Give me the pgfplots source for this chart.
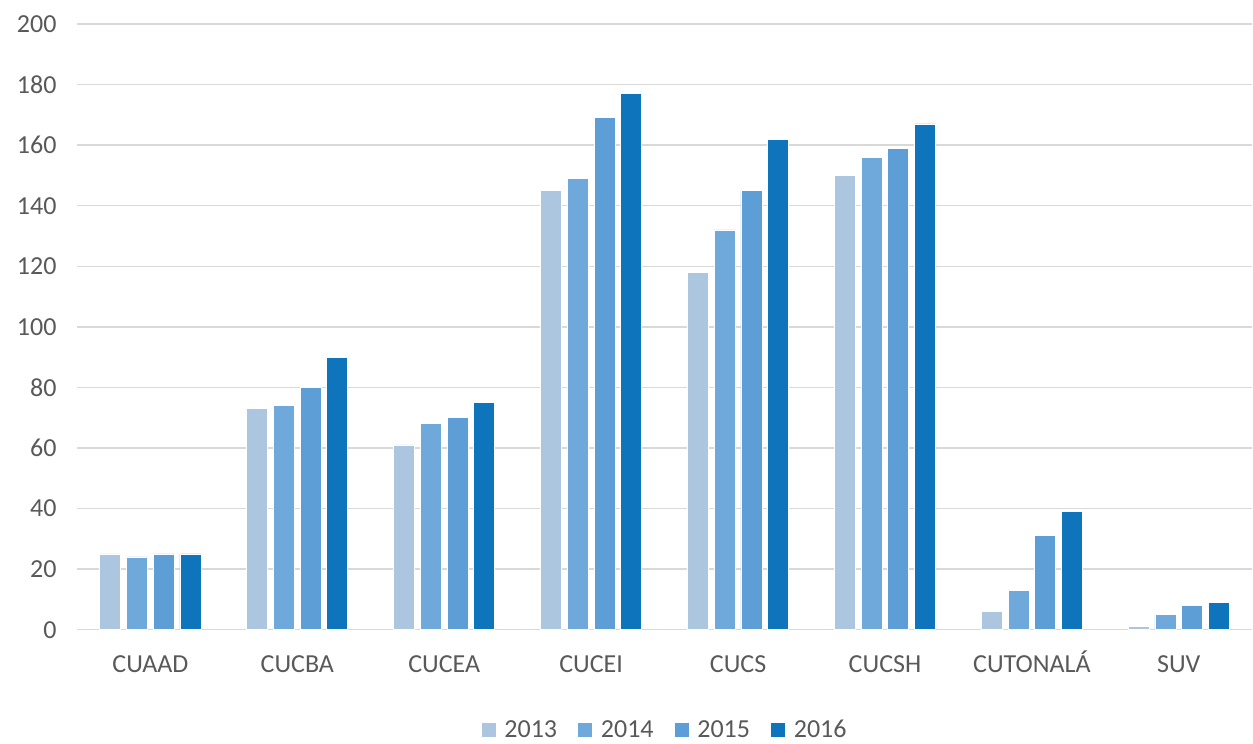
\documentclass[border=0pt]{standalone}
\usepackage{pgfplots}
\pgfplotsset{compat=1.18}
\usepackage{fontspec}
\setmainfont{Carlito}
\definecolor{c2013}{HTML}{ADC6E0}
\definecolor{c2014}{HTML}{6FA9DC}
\definecolor{c2015}{HTML}{5E9ED6}
\definecolor{c2016}{HTML}{0E74BC}
\definecolor{txt}{HTML}{595959}
\definecolor{gridc}{HTML}{D9D9D9}
\begin{document}
\begin{tikzpicture}[x=1pt,y=1pt]
\begin{axis}[
  at={(0,0)}, anchor=south west,
  scale only axis, width=1176pt, height=606pt,
  ybar=5.7pt, bar width=21pt,
  xmin=-0.5, xmax=7.5, ymin=0, ymax=200,
  xtick={0,...,7},
  xticklabels={CUAAD,CUCBA,CUCEA,CUCEI,CUCS,CUCSH,CUTONALÁ,SUV},
  ytick={0,20,...,200},
  ymajorgrids=true, xmajorgrids=false,
  y grid style={gridc, line width=1.5pt},
  axis line style={draw=none},
  tick style={draw=none},
  tick label style={font=\fontsize{26}{30}\selectfont, text=txt},
  /pgf/number format/assume math mode=true,
  yticklabel style={xshift=-17pt},
  xticklabel style={text height=18pt, text depth=5pt, yshift=-17pt},
  legend style={at={(rel axis cs:0.5,0)}, anchor=center, yshift=-100pt, draw=none,
    font=\fontsize{26}{30}\selectfont, text=txt, legend columns=4,
    /tikz/every odd column/.append style={column sep=6pt},
    /tikz/every even column/.append style={column sep=18pt}},
  legend image code/.code={\fill[#1] (0pt,-7.5pt) rectangle (15pt,7.5pt);},
  every axis plot/.append style={draw=white, line width=0.8pt},
]
\addplot[fill=c2013] coordinates {(0,25) (1,73) (2,61) (3,145) (4,118) (5,150) (6,6) (7,1)};
\addplot[fill=c2014] coordinates {(0,24) (1,74) (2,68) (3,149) (4,132) (5,156) (6,13) (7,5)};
\addplot[fill=c2015] coordinates {(0,25) (1,80) (2,70) (3,169) (4,145) (5,159) (6,31) (7,8)};
\addplot[fill=c2016] coordinates {(0,25) (1,90) (2,75) (3,177) (4,162) (5,167) (6,39) (7,9)};
\legend{2013,2014,2015,2016}
\end{axis}
\path[use as bounding box] (-77pt,-113pt) rectangle (1176pt,630pt);
\end{tikzpicture}
\end{document}
